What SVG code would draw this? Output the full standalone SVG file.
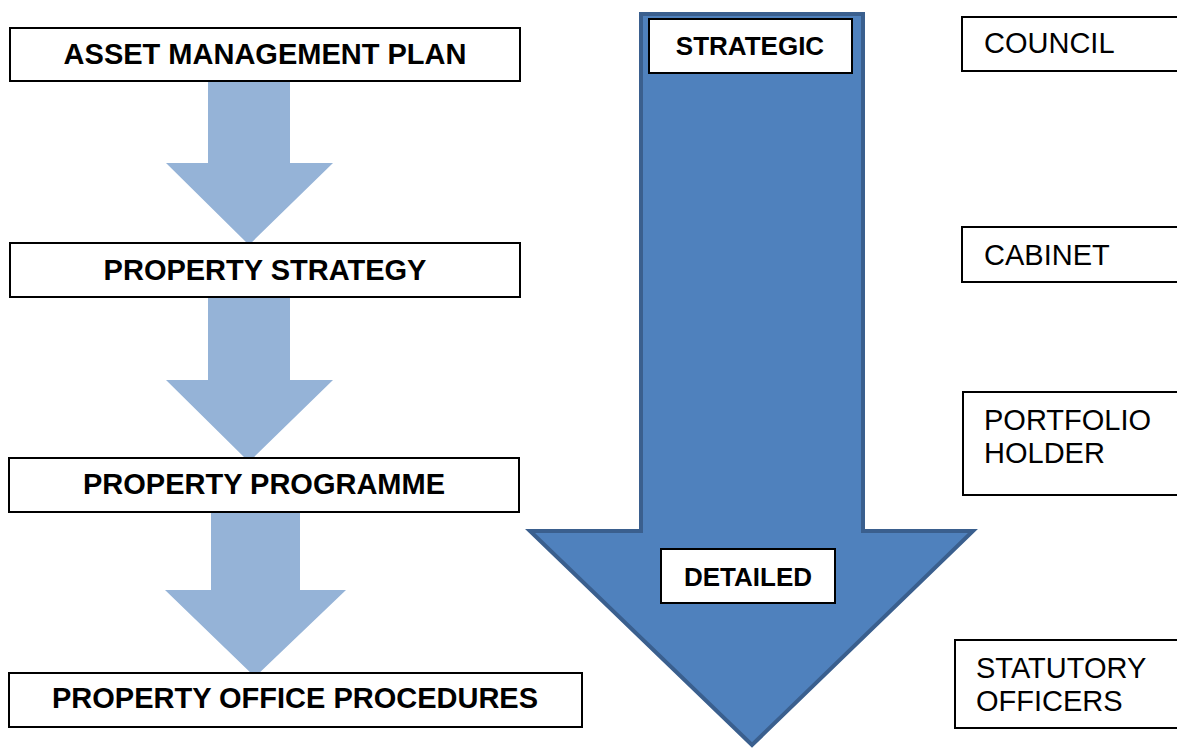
<svg xmlns="http://www.w3.org/2000/svg" width="1177" height="749" viewBox="0 0 1177 749">
  <style>
    .box { fill: #ffffff; stroke: #000000; stroke-width: 2; }
    .title { font-family: "Liberation Sans", Arial, sans-serif; font-size: 29px; font-weight: bold; fill: #000000; text-anchor: middle; }
    .tag { font-family: "Liberation Sans", Arial, sans-serif; font-size: 26px; font-weight: bold; fill: #000000; text-anchor: middle; }
    .role { font-family: "Liberation Sans", Arial, sans-serif; font-size: 29px; fill: #000000; }
    .flow { fill: #95B3D7; }
    .level { fill: #4F81BD; stroke: #3A5F8E; stroke-width: 4; stroke-linejoin: miter; }
  </style>
  <rect width="1177" height="749" fill="#ffffff"/>

  <!-- Large strategic-to-detailed arrow -->
  <g id="level-arrow">
    <polygon class="level" points="641,14 863,14 863,531 973,531 752,745 530,531 641,531"/>
  </g>

  <!-- Flow arrows between planning documents -->
  <g id="connectors">
    <polygon class="flow" points="208,78 290,78 290,163 333,163 249,245 166,163 208,163"/>
    <polygon class="flow" points="208,296 290,296 290,380 333,380 249,462 166,380 208,380"/>
    <polygon class="flow" points="211,511 300,511 300,590 346,590 255,677 165,590 211,590"/>
  </g>

  <!-- Planning documents -->
  <g id="asset-management-plan">
    <rect class="box" x="10" y="28" width="510" height="53"/>
    <text class="title" x="265" y="64">ASSET MANAGEMENT PLAN</text>
  </g>
  <g id="property-strategy">
    <rect class="box" x="10" y="243" width="510" height="54"/>
    <text class="title" x="265" y="280">PROPERTY STRATEGY</text>
  </g>
  <g id="property-programme">
    <rect class="box" x="9" y="458" width="510" height="54"/>
    <text class="title" x="264" y="494">PROPERTY PROGRAMME</text>
  </g>
  <g id="property-office-procedures">
    <rect class="box" x="9" y="673" width="573" height="54"/>
    <text class="title" x="295" y="708">PROPERTY OFFICE PROCEDURES</text>
  </g>

  <!-- Level tags on the large arrow -->
  <g id="strategic">
    <rect class="box" x="649" y="19" width="203" height="54"/>
    <text class="tag" x="750" y="55">STRATEGIC</text>
  </g>
  <g id="detailed">
    <rect class="box" x="661" y="549" width="174" height="54"/>
    <text class="tag" x="748" y="586">DETAILED</text>
  </g>

  <!-- Decision makers -->
  <g id="council">
    <rect class="box" x="962" y="17" width="230" height="54"/>
    <text class="role" x="984" y="53">COUNCIL</text>
  </g>
  <g id="cabinet">
    <rect class="box" x="962" y="227" width="230" height="55"/>
    <text class="role" x="984" y="265">CABINET</text>
  </g>
  <g id="portfolio-holder">
    <rect class="box" x="963" y="392" width="230" height="103"/>
    <text class="role" x="984" y="430">PORTFOLIO</text>
    <text class="role" x="984" y="463">HOLDER</text>
  </g>
  <g id="statutory-officers">
    <rect class="box" x="955" y="640" width="240" height="88"/>
    <text class="role" x="976" y="678">STATUTORY</text>
    <text class="role" x="976" y="711">OFFICERS</text>
  </g>
</svg>
